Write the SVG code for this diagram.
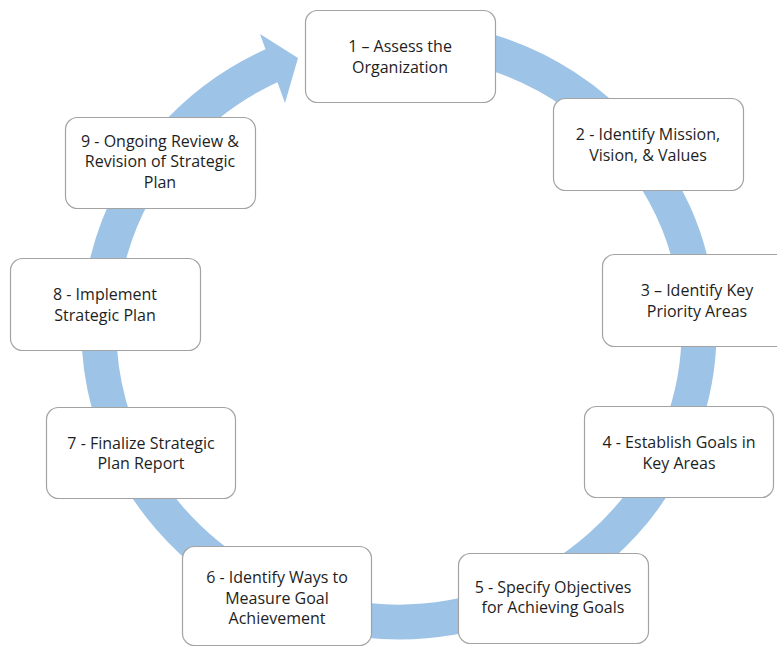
<svg xmlns="http://www.w3.org/2000/svg" width="777" height="648" viewBox="0 0 777 648">
<style>
.box{fill:#ffffff;stroke:#a3a3a3;stroke-width:1.2}
.t{font-family:"Open Sans","Liberation Sans",sans-serif;font-size:16px;fill:#1e1e1e;text-anchor:middle}
.ring{fill:none;stroke:#9dc3e6;stroke-width:35}
.head{fill:#9dc3e6}
</style>
<rect width="777" height="648" fill="#ffffff"/>
<g id="connectors">
<path class="ring" d="M346.91,42.44 A300,292 0 0 1 680.91,429.87 A300,292 0 0 1 169.19,517.69 A300,292 0 0 1 276.98,63.24"/>
<polygon class="head" points="260,34 298,58 285,103"/>
</g>
<g id="n1"><rect class="box" x="305.5" y="10.5" width="190" height="92" rx="12"/>
<text class="t" x="400" y="52">1 – Assess the</text><text class="t" x="400" y="72.5">Organization</text></g>
<g id="n2"><rect class="box" x="553.5" y="98.5" width="190" height="92" rx="12"/>
<text class="t" x="648" y="140">2 - Identify Mission,</text><text class="t" x="648" y="160.5">Vision, &amp; Values</text></g>
<g id="n3"><rect class="box" x="602.5" y="254.5" width="190" height="92" rx="12"/>
<text class="t" x="697" y="296">3 – Identify Key</text><text class="t" x="697" y="316.5">Priority Areas</text></g>
<g id="n4"><rect class="box" x="584.5" y="406.5" width="189" height="91" rx="12"/>
<text class="t" x="679" y="448">4 - Establish Goals in</text><text class="t" x="679" y="468.5">Key Areas</text></g>
<g id="n5"><rect class="box" x="458.5" y="553.5" width="190" height="90" rx="12"/>
<text class="t" x="553" y="592.5">5 - Specify Objectives</text><text class="t" x="553" y="613">for Achieving Goals</text></g>
<g id="n6"><rect class="box" x="182.5" y="546.5" width="189" height="99" rx="12"/>
<text class="t" x="277" y="583">6 - Identify Ways to</text><text class="t" x="277" y="603.5">Measure Goal</text><text class="t" x="277" y="624">Achievement</text></g>
<g id="n7"><rect class="box" x="46.5" y="407.5" width="189" height="91" rx="12"/>
<text class="t" x="141" y="448.5">7 - Finalize Strategic</text><text class="t" x="141" y="469">Plan Report</text></g>
<g id="n8"><rect class="box" x="10.5" y="258.5" width="190" height="92" rx="12"/>
<text class="t" x="105" y="300">8 - Implement</text><text class="t" x="105" y="320.5">Strategic Plan</text></g>
<g id="n9"><rect class="box" x="65.5" y="117.5" width="190" height="91" rx="12"/>
<text class="t" x="160" y="146.5">9 - Ongoing Review &amp;</text><text class="t" x="160" y="167">Revision of Strategic</text><text class="t" x="160" y="187.5">Plan</text></g>
</svg>
